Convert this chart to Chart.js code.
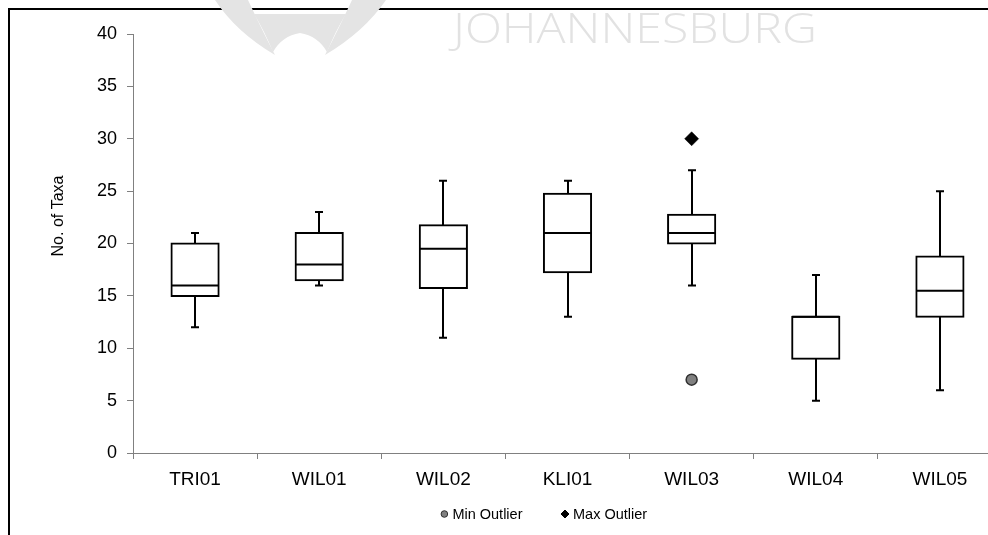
<!DOCTYPE html>
<html>
<head>
<meta charset="utf-8">
<script src="https://cdn.jsdelivr.net/npm/chart.js@4/dist/chart.umd.min.js"></script>
<style>
  html, body { margin: 0; padding: 0; background: #fff; overflow: hidden; width: 988px; height: 535px; }
  #frame { position: absolute; left: 8px; top: 8px; width: 1120px; height: 620px; border: 2px solid #000; box-sizing: border-box; }
  #wrap { position: absolute; left: 10px; top: 10px; width: 1060px; height: 560px; }
  #mark { position: absolute; left: 0; top: 0; pointer-events: none; }
</style>
</head>
<body>
<div id="frame"></div>
<div id="wrap"><canvas id="c" width="1060" height="560"></canvas></div>
<svg id="mark" width="988" height="70" viewBox="0 0 988 70">
  <g fill="#e4e4e4">
    <path d="M215,0 L248,0 Q262,30 275,55 Q236,32 215,0 Z"/>
    <path d="M386,0 L352,0 Q338,30 325,55 Q364,32 386,0 Z"/>
    <path d="M254,14 L346,14 Q336,30 327,52 Q318,36 300,33 Q282,36 273,52 Q264,30 254,14 Z"/>
  </g>
  <text x="453" y="43" font-family="Open Sans, Lato, sans-serif" font-weight="300" font-size="43" fill="#e2e2e2" textLength="364" lengthAdjust="spacingAndGlyphs">JOHANNESBURG</text>
</svg>
<script>
// Sampling sites and the five-number summary of taxa counts at each
const categories = ['TRI01', 'WIL01', 'WIL02', 'KLI01', 'WIL03', 'WIL04', 'WIL05'];
const minVals    = [12, 16,   11,    13,    16,    5,  6];
const q1Vals     = [15, 16.5, 15.75, 17.25, 20,    9,  13];
const medianVals = [16, 18,   19.5,  21,    21,    13, 15.5];
const q3Vals     = [20, 21,   21.75, 24.75, 22.75, 13, 18.75];
const maxVals    = [21, 23,   26,    26,    27,    17, 25];

// Outliers (null where a site has none)
const minOutliers = [null, null, null, null, 7,  null, null];
const maxOutliers = [null, null, null, null, 30, null, null];

// Value axis ticks
const yTicks = [0, 5, 10, 15, 20, 25, 30, 35, 40];

const FONT = '"Liberation Sans", Arial, sans-serif';
Chart.defaults.font.family = FONT;
Chart.defaults.color = '#000';

// Whiskers, caps and median lines drawn right after the boxes
const boxPlotLines = {
  id: 'boxPlotLines',
  afterDatasetDraw(chart, args) {
    if (args.index !== 0) return;
    const yScale = chart.scales.y;
    const ctx = chart.ctx;
    ctx.save();
    ctx.strokeStyle = '#000';
    ctx.lineWidth = 2;
    ctx.lineCap = 'butt';
    args.meta.data.forEach((bar, i) => {
      const x = Math.round(bar.x);
      const half = bar.width / 2;
      const yMax = yScale.getPixelForValue(maxVals[i]);
      const yQ3 = yScale.getPixelForValue(q3Vals[i]);
      const yMed = yScale.getPixelForValue(medianVals[i]);
      const yQ1 = yScale.getPixelForValue(q1Vals[i]);
      const yMin = yScale.getPixelForValue(minVals[i]);
      ctx.beginPath();
      ctx.moveTo(x, yQ3); ctx.lineTo(x, yMax);
      ctx.moveTo(x - 4, yMax); ctx.lineTo(x + 4, yMax);
      ctx.moveTo(x, yQ1); ctx.lineTo(x, yMin);
      ctx.moveTo(x - 4, yMin); ctx.lineTo(x + 4, yMin);
      ctx.moveTo(bar.x - half, yMed); ctx.lineTo(bar.x + half, yMed);
      ctx.stroke();
    });
    ctx.restore();
  }
};

// Axis title and the outlier key under the plot
const annotations = {
  id: 'annotations',
  afterDraw(chart) {
    const ctx = chart.ctx;
    ctx.save();
    ctx.fillStyle = '#000';
    ctx.font = '16px ' + FONT;
    ctx.textAlign = 'center';
    ctx.textBaseline = 'middle';
    ctx.translate(49, 206);
    ctx.rotate(-Math.PI / 2);
    ctx.fillText('No. of Taxa', 0, 0);
    ctx.restore();

    const items = [1, 2].map(k => chart.data.datasets[k]);
    ctx.save();
    ctx.font = '14.5px ' + FONT;
    ctx.textBaseline = 'middle';
    ctx.textAlign = 'left';
    const mark = 7, gapIn = 4.5, gapOut = 39;
    const widths = items.map(d => mark + gapIn + ctx.measureText(d.label).width);
    const total = widths[0] + gapOut + widths[1];
    let x = 534 - total / 2;
    const y = 504;
    items.forEach((d, k) => {
      const cx = x + mark / 2;
      ctx.fillStyle = d.pointBackgroundColor;
      ctx.strokeStyle = d.pointBorderColor;
      ctx.lineWidth = 1;
      ctx.beginPath();
      if (d.pointStyle === 'rectRot') {
        ctx.moveTo(cx - 4, y); ctx.lineTo(cx, y - 4); ctx.lineTo(cx + 4, y); ctx.lineTo(cx, y + 4);
        ctx.closePath();
      } else {
        ctx.arc(cx, y, 3.3, 0, Math.PI * 2);
      }
      ctx.fill();
      ctx.stroke();
      ctx.fillStyle = '#000';
      ctx.fillText(d.label, x + mark + gapIn, y + 0.5);
      x += widths[k] + gapOut;
    });
    ctx.restore();
  }
};

new Chart(document.getElementById('c'), {
  type: 'bar',
  data: {
    labels: categories,
    datasets: [
      {
        label: 'Interquartile range',
        data: categories.map((_, i) => [q1Vals[i], q3Vals[i]]),
        backgroundColor: '#ffffff',
        borderColor: '#000000',
        borderWidth: 2,
        borderSkipped: false,
        inflateAmount: 1,
        categoryPercentage: 1,
        barPercentage: 0.38,
        order: 2
      },
      {
        type: 'line',
        label: 'Min Outlier',
        data: minOutliers,
        showLine: false,
        pointStyle: 'circle',
        pointRadius: 5.5,
        pointBorderWidth: 1.5,
        pointBackgroundColor: '#808080',
        pointBorderColor: '#303030',
        order: 1
      },
      {
        type: 'line',
        label: 'Max Outlier',
        data: maxOutliers,
        showLine: false,
        pointStyle: 'rectRot',
        pointRadius: 7,
        pointBorderWidth: 0.5,
        pointBackgroundColor: '#000000',
        pointBorderColor: '#000000',
        order: 1
      }
    ]
  },
  options: {
    responsive: false,
    animation: false,
    events: [],
    layout: { padding: { left: 76, right: 68, top: 24, bottom: 77 } },
    plugins: { legend: { display: false }, tooltip: { enabled: false } },
    scales: {
      x: {
        offset: true,
        grid: { display: true, drawOnChartArea: false, drawTicks: true, tickLength: 6, color: '#808080', offset: true },
        border: { color: '#808080', width: 1 },
        ticks: { font: { size: 19 }, color: '#000', padding: 9, maxRotation: 0 },
        afterFit(scale) { scale.height = 40; }
      },
      y: {
        min: 0,
        max: 40,
        afterBuildTicks(scale) { scale.ticks = yTicks.map(v => ({ value: v })); },
        grid: { display: true, drawOnChartArea: false, drawTicks: true, tickLength: 6, color: '#808080' },
        border: { color: '#808080', width: 1 },
        ticks: { font: { size: 18 }, color: '#000', padding: 10 },
        afterFit(scale) { scale.width = 47; }
      }
    }
  },
  plugins: [boxPlotLines, annotations]
});
</script>
</body>
</html>
